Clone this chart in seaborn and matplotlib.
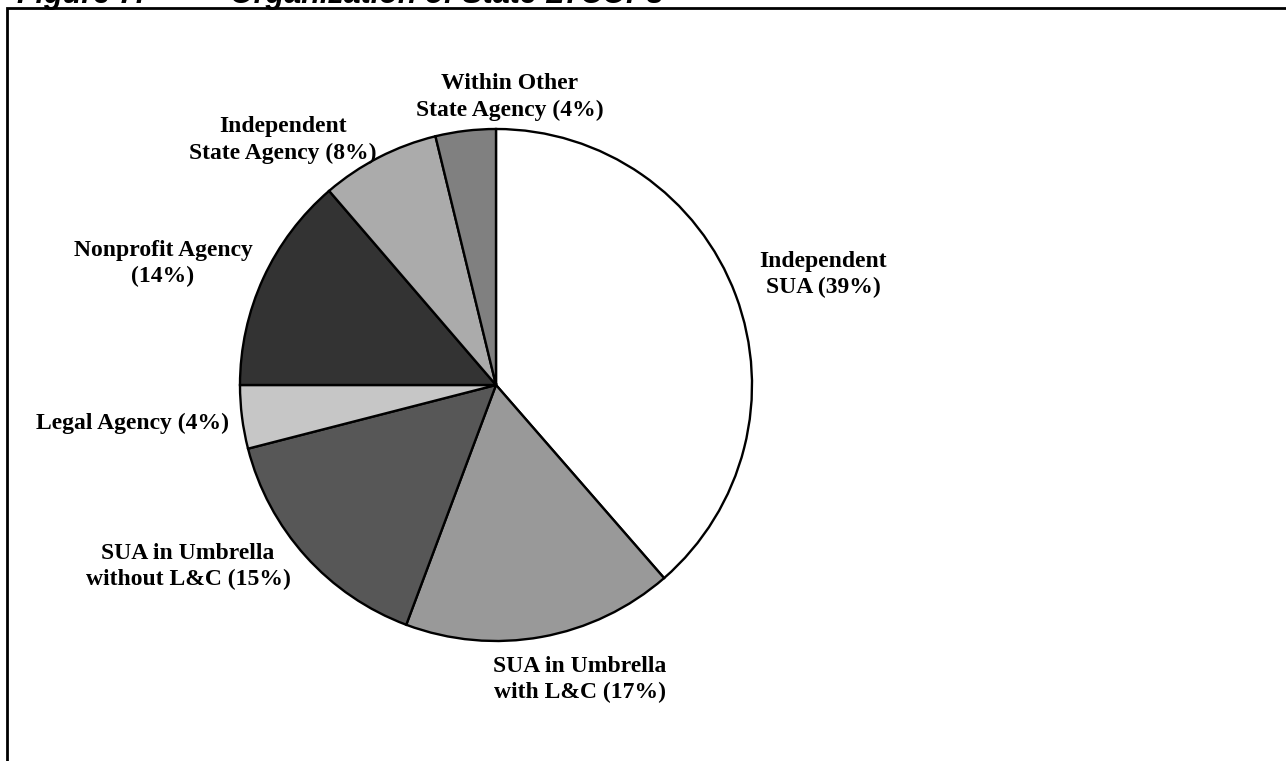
import matplotlib
matplotlib.use("Agg")
import matplotlib.pyplot as plt
import seaborn as sns
from matplotlib.patches import Rectangle

# Data (clockwise from 12 o'clock)
categories = [
    "Independent\nSUA (39%)",
    "SUA in Umbrella\nwith L&C (17%)",
    "SUA in Umbrella\nwithout L&C (15%)",
    "Legal Agency (4%)",
    "Nonprofit Agency\n(14%)",
    "Independent\nState Agency (8%)",
    "Within Other\nState Agency (4%)",
]
shares = [38.6, 17.1, 15.3, 4.0, 13.7, 7.5, 3.8]
colors = ["#ffffff", "#999999", "#575757", "#c6c6c6", "#333333", "#ababab", "#808080"]

# label anchor points, in pixels from the top-left of the picture
label_pos = [(823, 275), (580, 680), (188, 567), (133, 423), (163, 264), (283, 140), (510, 97)]

W, H = 1286, 761
sns.set_style("white")
plt.rcParams["font.family"] = ["Liberation Serif", "DejaVu Serif"]

fig = plt.figure(figsize=(W / 100, H / 100), dpi=100)
ax = fig.add_axes([0, 0, 1, 1])

# pie centred at pixel (496, 385), radius 256 px
ax.pie(shares, colors=colors, startangle=90, counterclock=False,
       center=(496, H - 385), radius=256, frame=True,
       wedgeprops=dict(edgecolor="black", linewidth=1.7))
ax.set_xlim(0, W)
ax.set_ylim(0, H)
ax.set_aspect("equal")
ax.axis("off")

for text, (x, y) in zip(categories, label_pos):
    ax.text(x, H - y, text, ha="center", va="center", fontsize=17,
            fontweight="bold", linespacing=1.3, color="black")

# outer frame (right/bottom edges run off the page)
ax.add_patch(Rectangle((7, -10), W + 20, H - 8 + 10, fill=False,
                       edgecolor="black", linewidth=2.0, clip_on=False))

# title, mostly cut off by the top edge
title_kw = dict(ha="left", va="baseline", fontsize=22, fontweight="bold",
                fontstyle="italic", color="black",
                family=["Liberation Sans", "DejaVu Sans"])
fig.text(17 / W, 1 - 3 / H, "Figure 7.", **title_kw)
fig.text(230 / W, 1 - 3 / H, "Organization of State LTCOPs", **title_kw)

fig.savefig("out.png", dpi=100)
